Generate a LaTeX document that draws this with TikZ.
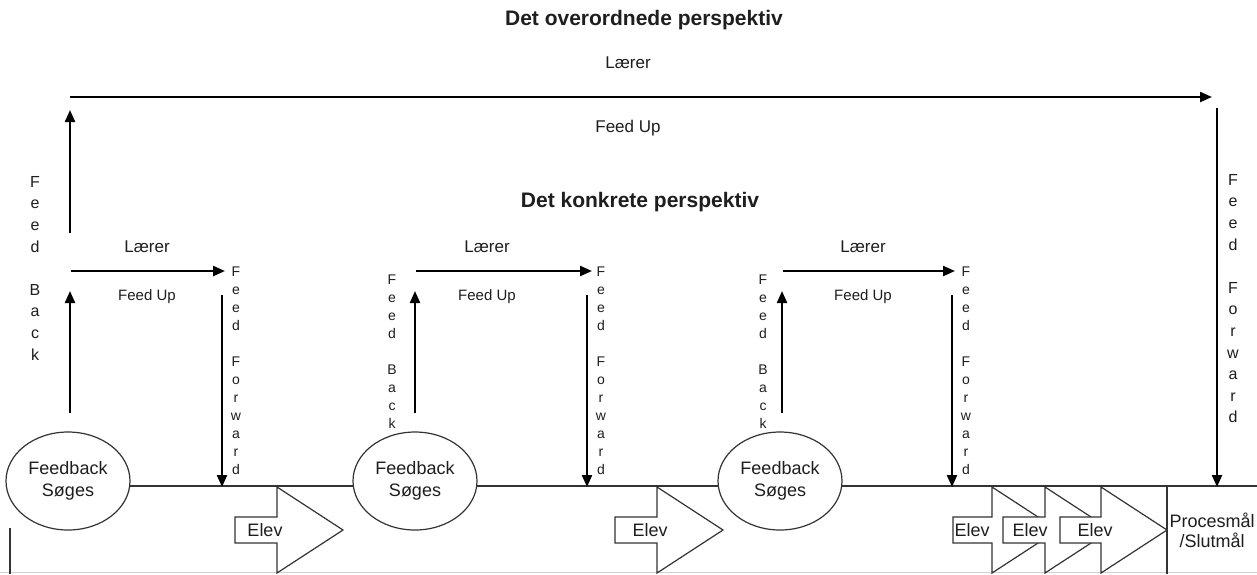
\documentclass[tikz,border=0pt]{standalone}
\usepackage{fontspec}
\setmainfont{Liberation Sans}
\usetikzlibrary{arrows.meta,shapes.geometric}
\definecolor{ink}{HTML}{1E1E1E}
\definecolor{edge}{HTML}{333333}

% vertical letter stacks
\newcommand\vFeedBack{F\\e\\e\\d\\[\baselineskip]B\\a\\c\\k}
\newcommand\vFeedFwd{F\\e\\e\\d\\[\baselineskip]F\\o\\r\\w\\a\\r\\d}

\tikzset{
  flow/.style={line width=2.2pt, draw=black, -{Triangle[length=12pt,width=10pt]}},
  thinline/.style={line width=1.2pt, draw=edge},
  lbl/.style={inner sep=0pt, text=ink, font=\fontsize{17}{20}\selectfont},
  smalllbl/.style={inner sep=0pt, text=ink, font=\fontsize{15}{18}\selectfont},
  headline/.style={inner sep=0pt, text=ink, font=\fontsize{21}{24}\selectfont\bfseries},
  vbig/.style={inner sep=0pt, text=ink, anchor=north, align=center, font=\fontsize{16}{21.6}\selectfont},
  vsmall/.style={inner sep=0pt, text=ink, anchor=north, align=center, font=\fontsize{14}{18}\selectfont},
  bubble/.style={ellipse, draw=edge, line width=1.2pt, fill=white, minimum width=124pt, minimum height=98pt, inner sep=0pt, align=center, font=\fontsize{18}{22}\selectfont, text=ink},
  elevshape/.style={draw=edge, line width=1.2pt, fill=white, line join=miter},
  elevtxt/.style={inner sep=0pt, text=ink, font=\fontsize{18}{20}\selectfont},
}

\begin{document}
\begin{tikzpicture}[x=1pt,y=-1pt]
\useasboundingbox (0,0) rectangle (1257,574);
\fill[white] (0,0) rectangle (1257,574);

% page edge at the bottom left
\draw[gray!35, line width=1pt] (0,572) -- (1257,572);
\draw[edge, line width=1.2pt] (10,528) -- (10,574);

% titles
\node[headline] (tOver) at (644,20) {Det overordnede perspektiv};
\node[headline] (tKonk) at (640,202) {Det konkrete perspektiv};

% student time line
\coordinate (lineL) at (68,486);
\coordinate (lineR) at (1257,486);
\draw[thinline] (lineL) -- (lineR);

% goal box
\coordinate (goalTop) at (1167,486);
\coordinate (goalBot) at (1167,574);
\draw[thinline] (goalTop) -- (goalBot);
\node[elevtxt, align=center, font=\fontsize{18}{20}\selectfont] (goal) at (1212,530) {Procesmål\\/Slutmål};

% Elev block arrows: shaft start, head base
\foreach \s/\b [count=\i] in {235/277, 615/657, 953/992, 1003/1045, 1060/1101}{
  \draw[elevshape] (\s,517) -- (\b,517) -- (\b,487) -- (\b+66,530) -- (\b,573) -- (\b,543) -- (\s,543) -- cycle;
}
\node[elevtxt] (elev1) at (265,530) {Elev};
\node[elevtxt] (elev2) at (650,530) {Elev};
\node[elevtxt] (elev3) at (972,530) {Elev};
\node[elevtxt] (elev4) at (1030,530) {Elev};
\node[elevtxt] (elev5) at (1095,530) {Elev};

% feedback bubbles
\node[bubble] (fb1) at (68,481) {Feedback\\Søges};
\node[bubble] (fb2) at (415,481) {Feedback\\Søges};
\node[bubble] (fb3) at (780,481) {Feedback\\Søges};

% overall loop
\coordinate (bigUpS) at (70,233);
\coordinate (bigUpE) at (70,110);
\coordinate (topS) at (70,97);
\coordinate (topE) at (1212,97);
\coordinate (bigDnS) at (1217,108);
\coordinate (bigDnE) at (1217,487);
\draw[flow] (bigUpS) -- (bigUpE);
\draw[flow] (topS) -- (topE);
\draw[flow] (bigDnS) -- (bigDnE);
\node[lbl] (topLaerer) at (628,63) {Lærer};
\node[lbl] (topFeedUp) at (628,128) {Feed Up};
\node[vbig] (bigFB) at (35,176) {\vFeedBack};
\node[vbig] (bigFF) at (1233,174) {\vFeedFwd};

% concrete loops
\foreach \u/\r/\d/\m/\fb [count=\k] in {70/222/222/147/0, 415/589/587/487/392, 782/952/952/863/763}{
  \coordinate (up\k S) at (\u,413);
  \coordinate (up\k E) at (\u,291);
  \coordinate (hz\k S) at (\u+1,271);
  \coordinate (hz\k E) at (\r+3,271);
  \coordinate (dn\k S) at (\d,295);
  \coordinate (dn\k E) at (\d,487);
  \draw[flow] (up\k S) -- (up\k E);
  \draw[flow] (hz\k S) -- (hz\k E);
  \draw[flow] (dn\k S) -- (dn\k E);
  \node[lbl] (laerer\k) at (\m,247) {Lærer};
  \node[smalllbl] (feedup\k) at (\m,297) {Feed Up};
  \node[vsmall] (ff\k) at (\d+14,267) {\vFeedFwd};
}
\node[vsmall] (fbB2) at (392,275) {\vFeedBack};
\node[vsmall] (fbB3) at (763,275) {\vFeedBack};
\end{tikzpicture}
\end{document}
